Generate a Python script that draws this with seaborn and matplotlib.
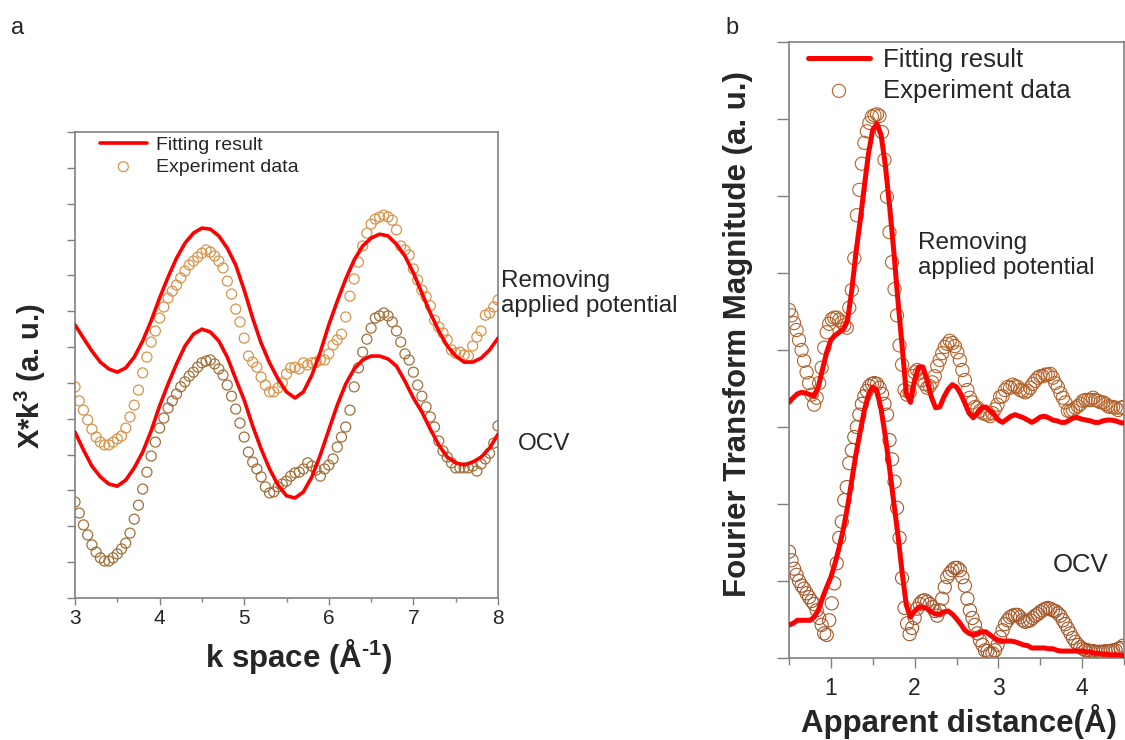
import numpy as np
import pandas as pd
import matplotlib
matplotlib.use("Agg")
import matplotlib.pyplot as plt
import seaborn as sns
from matplotlib.ticker import MultipleLocator, NullFormatter

sns.set_style("ticks")
plt.rcParams["font.family"] = ["Liberation Sans", "DejaVu Sans"]
plt.rcParams["mathtext.fontset"] = "custom"
plt.rcParams["mathtext.rm"] = "Liberation Sans"
plt.rcParams["mathtext.bf"] = "Liberation Sans:bold"
plt.rcParams["mathtext.it"] = "Liberation Sans:italic"

# ---------------- panel a: k-space EXAFS ----------------
k_fit = np.round(np.arange(3.0, 8.0001, 0.1), 2)
k_exp = np.round(np.arange(3.0, 8.0001, 0.05), 2)

chi_fit_removing = [7.62, 7.25, 6.89, 6.58, 6.39, 6.30, 6.42, 6.72, 7.17, 7.73,
                    8.37, 8.95, 9.48, 9.90, 10.18, 10.32, 10.29, 10.10, 9.76, 9.29,
                    8.59, 7.81, 7.11, 6.56, 6.11, 5.75, 5.58, 5.75, 6.22, 6.86,
                    7.62, 8.28, 8.90, 9.43, 9.82, 10.04, 10.15, 10.10, 9.87, 9.54,
                    9.07, 8.51, 7.95, 7.45, 7.03, 6.75, 6.58, 6.58, 6.69, 6.92,
                    7.25]
chi_fit_ocv = [4.63, 4.13, 3.68, 3.38, 3.18, 3.12, 3.29, 3.63, 4.07, 4.66,
               5.36, 5.97, 6.53, 7.03, 7.36, 7.50, 7.42, 7.17, 6.72, 6.11,
               5.52, 4.80, 4.16, 3.60, 3.15, 2.85, 2.79, 2.96, 3.38, 3.99,
               4.69, 5.38, 5.97, 6.39, 6.64, 6.75, 6.75, 6.67, 6.47, 6.05,
               5.58, 5.19, 4.71, 4.27, 3.93, 3.77, 3.71, 3.79, 3.93, 4.18,
               4.57]
chi_exp_removing = [5.89, 5.50, 5.24, 4.97, 4.71, 4.49, 4.35, 4.27, 4.27, 4.35,
                    4.44, 4.52, 4.74, 5.05, 5.38, 5.80, 6.28, 6.72, 7.14, 7.45,
                    7.81, 8.12, 8.37, 8.56, 8.73, 8.93, 9.12, 9.29, 9.40, 9.51,
                    9.62, 9.71, 9.65, 9.54, 9.40, 9.21, 8.84, 8.48, 8.06, 7.70,
                    7.25, 6.75, 6.58, 6.44, 6.16, 5.94, 5.75, 5.75, 5.86, 6.00,
                    6.25, 6.42, 6.44, 6.39, 6.56, 6.50, 6.56, 6.58, 6.64, 6.64,
                    6.81, 7.06, 7.20, 7.36, 7.84, 8.42, 8.90, 9.37, 9.82, 10.18,
                    10.43, 10.57, 10.63, 10.68, 10.63, 10.54, 10.27, 9.82, 9.71, 9.57,
                    9.18, 8.87, 8.59, 8.40, 8.15, 7.75, 7.56, 7.39, 7.20, 6.92,
                    6.83, 6.86, 6.78, 6.75, 7.03, 7.28, 7.45, 7.89, 7.95, 8.12,
                    8.31]
chi_exp_ocv = [2.68, 2.37, 2.04, 1.76, 1.48, 1.28, 1.12, 1.03, 1.03, 1.12,
               1.23, 1.37, 1.53, 1.81, 2.20, 2.59, 3.04, 3.51, 3.96, 4.35,
               4.74, 5.02, 5.30, 5.50, 5.69, 5.89, 6.03, 6.19, 6.30, 6.44,
               6.56, 6.61, 6.64, 6.53, 6.39, 6.22, 5.94, 5.63, 5.27, 4.88,
               4.49, 4.07, 3.79, 3.60, 3.38, 3.10, 2.93, 2.96, 3.10, 3.18,
               3.26, 3.40, 3.49, 3.51, 3.60, 3.77, 3.68, 3.57, 3.40, 3.60,
               3.71, 3.88, 4.21, 4.49, 4.77, 5.24, 5.89, 6.42, 6.86, 7.22,
               7.53, 7.81, 7.87, 7.95, 7.87, 7.70, 7.45, 7.14, 6.81, 6.64,
               6.30, 5.94, 5.63, 5.33, 5.05, 4.77, 4.38, 4.10, 3.93, 3.77,
               3.63, 3.63, 3.63, 3.63, 3.68, 3.54, 3.74, 3.88, 4.04, 4.32,
               4.80]

# ---------------- panel b: R-space magnitude ----------------
r_fit = np.round(np.arange(0.5, 4.5001, 0.05), 2)
r_exp = np.round(np.arange(0.5, 4.495, 0.03), 2)

ft_fit_removing = [3.32, 3.38, 3.43, 3.45, 3.44, 3.42, 3.40, 3.52, 3.75, 3.97,
                   4.13, 4.19, 4.23, 4.27, 4.39, 4.78, 5.27, 5.68, 6.13, 6.56,
                   6.86, 6.94, 6.79, 6.40, 5.88, 5.30, 4.65, 4.06, 3.44, 3.32,
                   3.61, 3.78, 3.78, 3.60, 3.39, 3.25, 3.26, 3.39, 3.49, 3.55,
                   3.52, 3.43, 3.31, 3.18, 3.12, 3.18, 3.25, 3.26, 3.21, 3.16,
                   3.09, 3.06, 3.10, 3.14, 3.16, 3.14, 3.12, 3.09, 3.06, 3.09,
                   3.13, 3.14, 3.12, 3.09, 3.08, 3.06, 3.06, 3.09, 3.12, 3.12,
                   3.10, 3.09, 3.08, 3.06, 3.06, 3.08, 3.09, 3.09, 3.08, 3.06,
                   3.05]
ft_fit_ocv = [0.43, 0.45, 0.49, 0.49, 0.49, 0.49, 0.53, 0.62, 0.78, 0.92,
              1.05, 1.23, 1.44, 1.68, 1.97, 2.31, 2.65, 2.94, 3.22, 3.42,
              3.52, 3.47, 3.23, 2.88, 2.47, 2.03, 1.60, 1.12, 0.69, 0.53,
              0.61, 0.66, 0.66, 0.64, 0.60, 0.57, 0.57, 0.60, 0.61, 0.57,
              0.51, 0.44, 0.36, 0.32, 0.30, 0.31, 0.34, 0.34, 0.30, 0.26,
              0.23, 0.22, 0.22, 0.22, 0.21, 0.19, 0.17, 0.16, 0.13, 0.13,
              0.13, 0.13, 0.12, 0.12, 0.10, 0.09, 0.09, 0.09, 0.09, 0.09,
              0.09, 0.08, 0.08, 0.06, 0.06, 0.05, 0.05, 0.04, 0.04, 0.04,
              0.03]
ft_exp_removing = [4.52, 4.45, 4.35, 4.26, 4.13, 4.00, 3.86, 3.71, 3.57, 3.42,
                   3.29, 3.38, 3.57, 3.77, 4.03, 4.23, 4.34, 4.40, 4.42, 4.42,
                   4.39, 4.36, 4.32, 4.29, 4.55, 4.78, 5.19, 5.75, 6.08, 6.42,
                   6.69, 6.84, 6.95, 7.03, 7.05, 7.06, 7.04, 6.83, 6.47, 5.99,
                   5.53, 5.14, 4.79, 4.45, 4.06, 3.81, 3.48, 3.42, 3.45, 3.66,
                   3.71, 3.74, 3.70, 3.61, 3.56, 3.51, 3.53, 3.58, 3.66, 3.79,
                   3.87, 3.96, 4.04, 4.08, 4.12, 4.09, 4.05, 3.97, 3.87, 3.74,
                   3.61, 3.48, 3.38, 3.32, 3.26, 3.25, 3.21, 3.18, 3.17, 3.16,
                   3.14, 3.18, 3.23, 3.29, 3.39, 3.40, 3.48, 3.52, 3.51, 3.55,
                   3.53, 3.52, 3.48, 3.47, 3.45, 3.47, 3.51, 3.56, 3.60, 3.64,
                   3.66, 3.66, 3.68, 3.68, 3.69, 3.64, 3.57, 3.52, 3.44, 3.38,
                   3.32, 3.21, 3.21, 3.22, 3.25, 3.27, 3.30, 3.34, 3.35, 3.35,
                   3.35, 3.38, 3.35, 3.34, 3.32, 3.32, 3.30, 3.27, 3.26, 3.26,
                   3.25, 3.22, 3.25, 3.26]
ft_exp_ocv = [1.38, 1.27, 1.16, 1.08, 1.00, 0.94, 0.90, 0.84, 0.79, 0.74,
              0.70, 0.62, 0.52, 0.43, 0.32, 0.30, 0.49, 0.71, 0.97, 1.23,
              1.56, 1.77, 2.05, 2.22, 2.53, 2.70, 2.87, 3.00, 3.16, 3.30,
              3.40, 3.47, 3.53, 3.56, 3.57, 3.56, 3.51, 3.43, 3.30, 3.16,
              2.83, 2.58, 2.29, 1.95, 1.56, 1.04, 0.65, 0.45, 0.31, 0.39,
              0.52, 0.64, 0.70, 0.74, 0.75, 0.73, 0.70, 0.66, 0.61, 0.55,
              0.62, 0.77, 0.92, 1.05, 1.10, 1.14, 1.17, 1.17, 1.14, 1.05,
              0.94, 0.77, 0.62, 0.52, 0.43, 0.32, 0.23, 0.17, 0.10, 0.09,
              0.06, 0.06, 0.10, 0.17, 0.27, 0.36, 0.44, 0.49, 0.53, 0.55,
              0.56, 0.56, 0.53, 0.49, 0.47, 0.48, 0.49, 0.52, 0.55, 0.57,
              0.60, 0.62, 0.64, 0.65, 0.64, 0.62, 0.61, 0.58, 0.55, 0.49,
              0.44, 0.38, 0.32, 0.26, 0.21, 0.17, 0.14, 0.12, 0.10, 0.10,
              0.09, 0.09, 0.08, 0.08, 0.08, 0.08, 0.09, 0.09, 0.09, 0.10,
              0.10, 0.12, 0.13, 0.16]

x_ticks_a = [3, 4, 5, 6, 7, 8]
x_ticks_b = [1, 2, 3, 4]

RED = "#ff0000"
SPINE = "#808080"

fig = plt.figure(figsize=(11.25, 7.4), dpi=100)
ax1 = fig.add_axes([75 / 1125, 142 / 740, 423 / 1125, 466 / 740])
ax2 = fig.add_axes([789 / 1125, 82 / 740, 335 / 1125, 616 / 740])

# ---- panel a ----
sns.lineplot(x=k_fit, y=chi_fit_removing, ax=ax1, color=RED, lw=2.6,
             label="Fitting result", legend=False, zorder=3)
sns.lineplot(x=k_fit, y=chi_fit_ocv, ax=ax1, color=RED, lw=2.6,
             legend=False, zorder=3)
sns.scatterplot(x=k_exp, y=chi_exp_removing, ax=ax1, marker="o", s=52,
                facecolor="none", edgecolor="#d8944a", linewidth=0.9,
                label="Experiment data", legend=False, zorder=2)
sns.scatterplot(x=k_exp, y=chi_exp_ocv, ax=ax1, marker="o", s=52,
                facecolor="none", edgecolor="#a0703a", linewidth=0.9,
                legend=False, zorder=2)

ax1.set_xlim(3, 8)
ax1.set_ylim(0, 13)
ax1.set_xticks(x_ticks_a)
ax1.xaxis.set_minor_locator(MultipleLocator(0.5))
ax1.yaxis.set_major_locator(MultipleLocator(1))
ax1.yaxis.set_major_formatter(NullFormatter())
ax1.tick_params(axis="x", which="major", direction="out", length=5, width=1,
                color=SPINE, labelsize=15, pad=3)
ax1.tick_params(axis="x", which="minor", direction="out", length=3, width=1,
                color=SPINE)
ax1.tick_params(axis="y", which="major", direction="out", length=6, width=1,
                color=SPINE)
ax1.legend(loc="upper left", bbox_to_anchor=(0.059, 0.99), frameon=False,
           fontsize=14, handlelength=2.4, handletextpad=0.5, labelspacing=0.2,
           borderpad=0, borderaxespad=0)
ax1.text(8.03, 8.49, "Removing\napplied potential", fontsize=17.5,
         ha="left", va="center", clip_on=False)
ax1.text(8.23, 4.30, "OCV", fontsize=17.5, ha="left", va="center", clip_on=False)

# ---- panel b ----
sns.lineplot(x=r_fit, y=ft_fit_removing, ax=ax2, color=RED, lw=3.6,
             label="Fitting result", legend=False, zorder=3)
sns.lineplot(x=r_fit, y=ft_fit_ocv, ax=ax2, color=RED, lw=3.6,
             legend=False, zorder=3)
sns.scatterplot(x=r_exp, y=ft_exp_removing, ax=ax2, marker="o", s=90,
                facecolor="none", edgecolor="#b5622a", linewidth=0.8,
                label="Experiment data", legend=False, zorder=2)
sns.scatterplot(x=r_exp, y=ft_exp_ocv, ax=ax2, marker="o", s=90,
                facecolor="none", edgecolor="#a5582a", linewidth=0.8,
                legend=False, zorder=2)

ax2.set_xlim(0.5, 4.5)
ax2.set_ylim(0, 8)
ax2.set_xticks(x_ticks_b)
ax2.xaxis.set_minor_locator(MultipleLocator(0.5))
ax2.yaxis.set_major_locator(MultipleLocator(1))
ax2.yaxis.set_major_formatter(NullFormatter())
ax2.tick_params(axis="x", which="major", direction="out", length=7, width=1,
                color=SPINE, labelsize=16.5, pad=7)
ax2.tick_params(axis="x", which="minor", direction="out", length=5, width=1,
                color=SPINE)
ax2.tick_params(axis="y", which="major", direction="out", length=9, width=1,
                color=SPINE)
ax2.legend(loc="upper left", bbox_to_anchor=(0.057, 0.99), frameon=False,
           fontsize=18.5, handlelength=2.4, handletextpad=0.5, labelspacing=0.25,
           borderpad=0, borderaxespad=0)
ax2.text(2.04, 5.23, "Removing\napplied potential", fontsize=17.5,
         ha="left", va="center")
ax2.text(3.65, 1.21, "OCV", fontsize=18.5, ha="left", va="center")

for ax in (ax1, ax2):
    ax.set_xlabel("")
    ax.set_ylabel("")
    for sp in ax.spines.values():
        sp.set_visible(True)
        sp.set_color(SPINE)
        sp.set_linewidth(1.2)

# axis titles
fig.text(298.5 / 1125, 1 - 656 / 740, "k space (Å$^{\\mathbf{\u2010}\\mathbf{1}}$)",
         fontsize=22.5, fontweight="bold", ha="center", va="center")
fig.text(30 / 1125, 1 - 376 / 740, r"X*k$^{\mathbf{3}}$ (a. u.)",
         fontsize=21, fontweight="bold", ha="center", va="center", rotation=90)
fig.text(959 / 1125, 1 - 722 / 740, "Apparent distance(Å)",
         fontsize=22.5, fontweight="bold", ha="center", va="center")
fig.text(738 / 1125, 1 - 334 / 740, "Fourier Transform Magnitude (a. u.)",
         fontsize=22.5, fontweight="bold", ha="center", va="center", rotation=90)

# panel letters
fig.text(18 / 1125, 1 - 28 / 740, "a", fontsize=17, ha="center", va="center")
fig.text(732 / 1125, 1 - 28 / 740, "b", fontsize=17, ha="center", va="center")

fig.savefig("out.png", dpi=100)
